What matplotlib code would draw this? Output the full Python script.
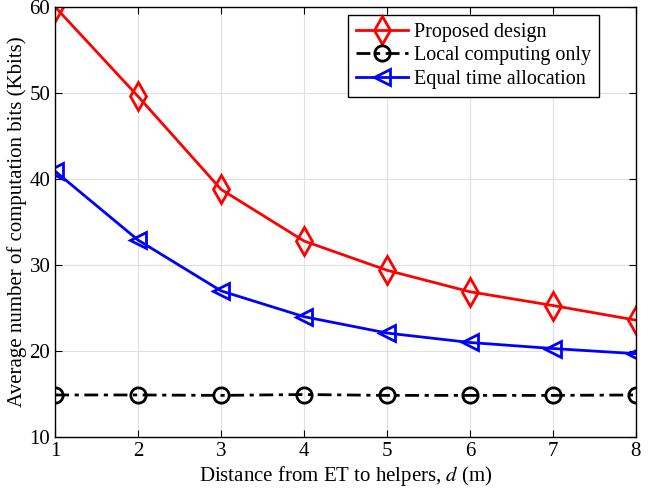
import matplotlib.pyplot as plt

distance = [1, 2, 3, 4, 5, 6, 7, 8]
proposed = [60.0, 49.6, 38.8, 32.8, 29.4, 26.9, 25.3, 23.6]
local_only = [14.9, 14.9, 14.85, 14.95, 14.85, 14.85, 14.85, 14.9]
equal_time = [40.9, 32.9, 27.0, 24.0, 22.1, 21.0, 20.3, 19.7]

plt.rcParams.update({
    "font.family": "Liberation Serif",
    "font.size": 15,
    "mathtext.fontset": "stix",
})

fig = plt.figure(figsize=(6.65, 5.03), dpi=100)
ax = fig.add_axes([0.083, 0.131, 0.873, 0.855])

ax.plot(distance, proposed, color="red", linewidth=2, marker="d", markersize=14,
        markerfacecolor="none", markeredgewidth=2, label="Proposed design")
ax.plot(distance, local_only, color="black", linewidth=2, linestyle=(0, (5, 2, 1.5, 2)),
        marker="o", markersize=11, markerfacecolor="none", markeredgewidth=2,
        label="Local computing only")
ax.plot(distance, equal_time, color="blue", linewidth=2, marker="<", markersize=12,
        markerfacecolor="none", markeredgewidth=2, label="Equal time allocation")

ax.set_xlim(1, 8)
ax.set_ylim(10, 60)
ax.set_xticks(distance)
ax.set_yticks([10, 20, 30, 40, 50, 60])
ax.grid(True, color="#e0e0e0", linewidth=0.8)
ax.tick_params(direction="in", length=5, top=True, right=True, labelsize=15)
for spine in ax.spines.values():
    spine.set_linewidth(1.0)

ax.set_xlabel("Distance from ET to helpers, $d$ (m)", fontsize=15, labelpad=2)
ax.set_ylabel("Average number of computation bits (Kbits)", fontsize=15, labelpad=2)

leg = ax.legend(loc="upper right", bbox_to_anchor=(0.937, 0.981), fontsize=14.5,
                fancybox=False, edgecolor="black", framealpha=1,
                handlelength=2.6, borderpad=0.4, labelspacing=0.2, handletextpad=0.3,
                borderaxespad=0)
leg.get_frame().set_linewidth(1.0)

fig.savefig("out.png", dpi=100)
